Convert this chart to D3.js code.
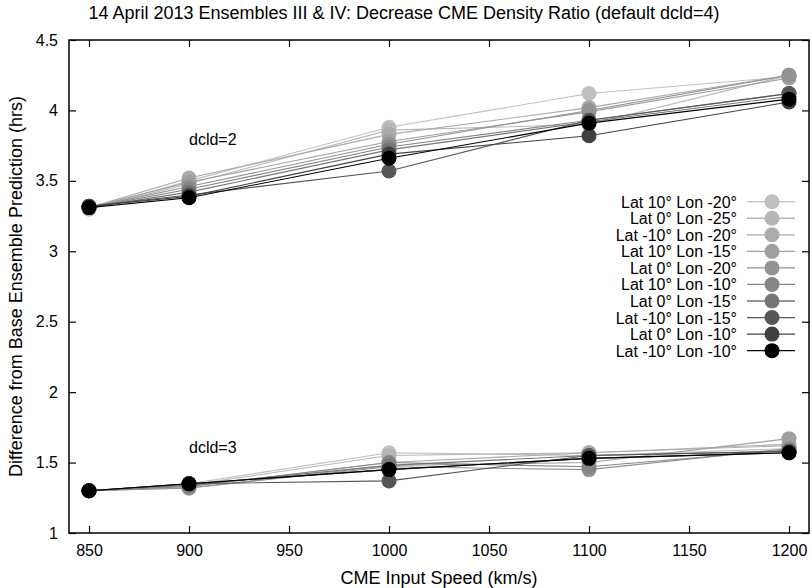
<!DOCTYPE html>
<html>
<head>
<meta charset="utf-8">
<script src="https://cdn.jsdelivr.net/npm/d3@7"></script>
<style>
  html, body { margin: 0; padding: 0; background: #fff; }
  svg { display: block; font-family: "Liberation Sans", Arial, Helvetica, sans-serif; }
</style>
</head>
<body>
<svg id="chart" width="812" height="588"></svg>
<script>
// CME input speeds (km/s)
const speeds = [850, 900, 1000, 1100, 1200];

// Ensemble member labels, in legend order
const members = [
  "Lat 10° Lon -20°",
  "Lat 0° Lon -25°",
  "Lat -10° Lon -20°",
  "Lat 10° Lon -15°",
  "Lat 0° Lon -20°",
  "Lat 10° Lon -10°",
  "Lat 0° Lon -15°",
  "Lat -10° Lon -15°",
  "Lat 0° Lon -10°",
  "Lat -10° Lon -10°"
];

// Grey level per member, light to dark
const shades = ["#c0c0c0", "#b6b6b6", "#ababab", "#9f9f9f", "#939393",
                "#868686", "#767676", "#565656", "#404040", "#000000"];

// Difference from base prediction (hrs), dcld=2 runs
const dcld2 = [
  [3.30, 3.50, 3.88, 4.12, 4.24],
  [3.30, 3.48, 3.86, 3.90, 4.25],
  [3.31, 3.52, 3.83, 4.02, 4.25],
  [3.31, 3.49, 3.78, 3.99, 4.23],
  [3.31, 3.46, 3.76, 4.00, 4.25],
  [3.31, 3.44, 3.74, 3.93, 4.12],
  [3.31, 3.42, 3.72, 3.92, 4.10],
  [3.32, 3.40, 3.57, 3.93, 4.12],
  [3.32, 3.39, 3.69, 3.82, 4.06],
  [3.31, 3.38, 3.66, 3.91, 4.08]
];

// Difference from base prediction (hrs), dcld=3 runs
const dcld3 = [
  [1.30, 1.35, 1.57, 1.55, 1.60],
  [1.30, 1.34, 1.55, 1.57, 1.62],
  [1.30, 1.33, 1.50, 1.57, 1.63],
  [1.30, 1.32, 1.48, 1.50, 1.67],
  [1.30, 1.32, 1.47, 1.45, 1.60],
  [1.30, 1.33, 1.50, 1.47, 1.59],
  [1.30, 1.34, 1.48, 1.55, 1.58],
  [1.30, 1.35, 1.37, 1.55, 1.58],
  [1.30, 1.35, 1.45, 1.53, 1.57],
  [1.30, 1.35, 1.45, 1.53, 1.57]
];

// Axis ticks
const xTicks = [850, 900, 950, 1000, 1050, 1100, 1150, 1200];
const yTicks = [1, 1.5, 2, 2.5, 3, 3.5, 4, 4.5];

// Cluster annotations: [speed, hrs, text]
const notes = [
  [900, 3.80, "dcld=2"],
  [900, 1.61, "dcld=3"]
];

const svg = d3.select("#chart");
const W = 812, H = 588;
const m = { left: 69, right: 3, top: 40, bottom: 55 };
const x = d3.scaleLinear().domain([840, 1210]).range([m.left, W - m.right]);
const y = d3.scaleLinear().domain([1, 4.5]).range([H - m.bottom, m.top]);
const tickLen = 7;
const fontFam = "'Liberation Sans', Arial, sans-serif";

// Title
svg.append("text").attr("x", 404).attr("y", 19)
  .attr("text-anchor", "middle").attr("font-size", 18).attr("fill", "#000")
  .text("14 April 2013 Ensembles III & IV: Decrease CME Density Ratio (default dcld=4)");

// Axes with inward, mirrored ticks
const gx = svg.append("g").attr("transform", `translate(0,${y(1)})`)
  .call(d3.axisBottom(x).tickValues(xTicks).tickSizeInner(-tickLen).tickSizeOuter(0).tickPadding(12).tickFormat(d3.format("d")));
const gxTop = svg.append("g").attr("transform", `translate(0,${y(4.5)})`)
  .call(d3.axisTop(x).tickValues(xTicks).tickSizeInner(-tickLen).tickSizeOuter(0).tickFormat(""));
const gy = svg.append("g").attr("transform", `translate(${x(840)},0)`)
  .call(d3.axisLeft(y).tickValues(yTicks).tickSizeInner(-tickLen).tickSizeOuter(0).tickPadding(11).tickFormat(d => d3.format("")(d)));
const gyRight = svg.append("g").attr("transform", `translate(${x(1210)},0)`)
  .call(d3.axisRight(y).tickValues(yTicks).tickSizeInner(-tickLen).tickSizeOuter(0).tickFormat(""));

[gx, gxTop, gy, gyRight].forEach(g => {
  g.select(".domain").remove();
  g.selectAll(".tick line").attr("stroke", "#000").attr("stroke-width", 1.2);
  g.selectAll(".tick text").attr("font-size", 16).attr("fill", "#000")
    .attr("font-family", fontFam);
});

// Plot border
svg.append("rect")
  .attr("x", x(840)).attr("y", y(4.5))
  .attr("width", x(1210) - x(840)).attr("height", y(1) - y(4.5))
  .attr("fill", "none").attr("stroke", "#000").attr("stroke-width", 1.5);

// Axis titles
svg.append("text").attr("x", (x(840) + x(1210)) / 2).attr("y", 584)
  .attr("text-anchor", "middle").attr("font-size", 18).text("CME Input Speed (km/s)");
svg.append("text")
  .attr("transform", `translate(22,${(y(1) + y(4.5)) / 2}) rotate(-90)`)
  .attr("text-anchor", "middle").attr("font-size", 18)
  .text("Difference from Base Ensemble Prediction (hrs)");

// Cluster annotations
svg.selectAll("text.note").data(notes).join("text").attr("class", "note")
  .attr("x", d => x(d[0])).attr("y", d => y(d[1]) + 6)
  .attr("font-size", 16).text(d => d[2]);

// Series: lines then points, light members first so dark ones sit on top
const line = d3.line().x((d, i) => x(speeds[i])).y(d => y(d));
const r = 7.5;
const plot = svg.append("g");
[dcld2, dcld3].forEach(set => {
  set.forEach((vals, k) => {
    const g = plot.append("g");
    g.append("path").attr("d", line(vals))
      .attr("fill", "none").attr("stroke", shades[k]).attr("stroke-width", 1.1);
    g.selectAll("circle").data(vals).join("circle")
      .attr("cx", (d, i) => x(speeds[i])).attr("cy", d => y(d))
      .attr("r", r).attr("fill", shades[k]);
  });
});

// Legend
const legY0 = 201.7, legDy = 16.55;
const leg = svg.append("g");
members.forEach((name, k) => {
  const yy = legY0 + k * legDy;
  leg.append("text").attr("x", 737).attr("y", yy + 6)
    .attr("text-anchor", "end").attr("font-size", 16).text(name);
  leg.append("line").attr("x1", 747).attr("x2", 795).attr("y1", yy).attr("y2", yy)
    .attr("stroke", shades[k]).attr("stroke-width", 1.3);
  leg.append("circle").attr("cx", 772).attr("cy", yy).attr("r", r).attr("fill", shades[k]);
});
</script>
</body>
</html>
